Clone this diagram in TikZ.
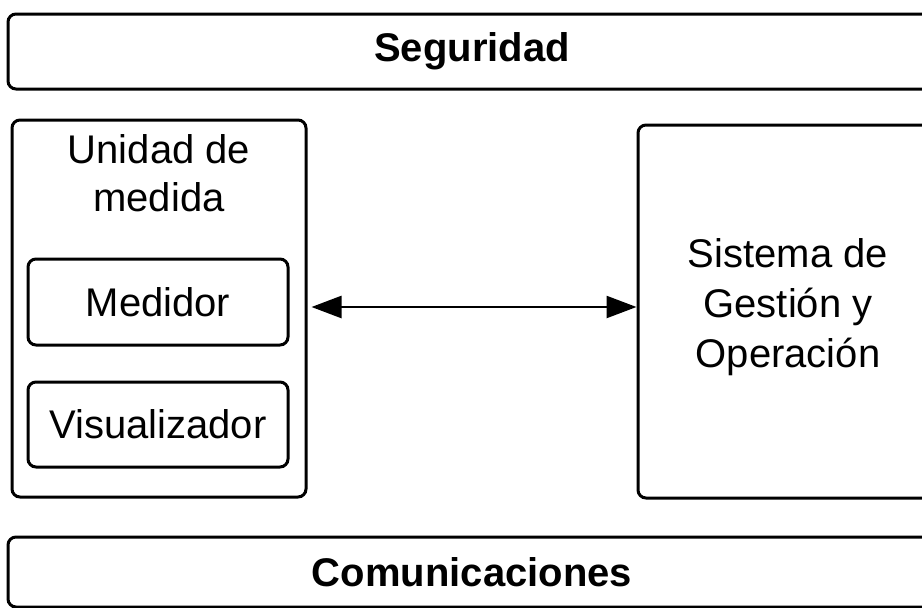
\documentclass[tikz,border=0pt]{standalone}
\usepackage{fontspec}
\setmainfont{Liberation Sans}
\usetikzlibrary{arrows.meta}
\usetikzlibrary{shapes}

\tikzset{
  block/.style = {draw, line width=3pt, rounded corners=8pt, inner sep=0pt},
  blocktext/.style = {align=center, inner sep=0pt,
    font=\fontsize{40}{48}\selectfont},
  link/.style = {line width=2.5pt, {Triangle[length=30pt,width=22pt]}-{Triangle[length=30pt,width=22pt]}}
}

\begin{document}
\begin{tikzpicture}[x=1pt, y=-1pt]
        \useasboundingbox (0, 0) rectangle (922, 608);

        % bands
        \node[block, blocktext, font=\fontsize{40}{48}\selectfont\bfseries,
            minimum width=928pt, minimum height=75pt] (seg) at (472, 51.5) {Seguridad};
        \node[block, blocktext, font=\fontsize{40}{48}\selectfont\bfseries,
            minimum width=928pt, minimum height=70pt] (com) at (472, 572) {Comunicaciones};

        % unidad de medida
        \node[block, minimum width=294pt, minimum height=377pt] (unid) at (159, 308.5) {};
        \node[blocktext] (unidtxt) at (159, 173) {Unidad de\\medida};
        \node[block, blocktext, minimum width=260pt, minimum height=86pt] (med) at (158, 302) {Medidor};
        \node[block, blocktext, minimum width=260pt, minimum height=85pt] (vis) at (158, 424.5) {Visualizador};

        % sistema
        \node[block, minimum width=300pt, minimum height=373pt] (sis) at (788, 311.5) {};
        \node[blocktext, font=\fontsize{40}{50}\selectfont] (sistxt) at (788, 307)
            {Sistema de\\Gestión y\\Operación};

        \coordinate (mid) at (472, 307);
        \draw[link, shorten <=4pt] (unid.east |- mid) -- (sis.west |- mid);
\end{tikzpicture}
\end{document}
